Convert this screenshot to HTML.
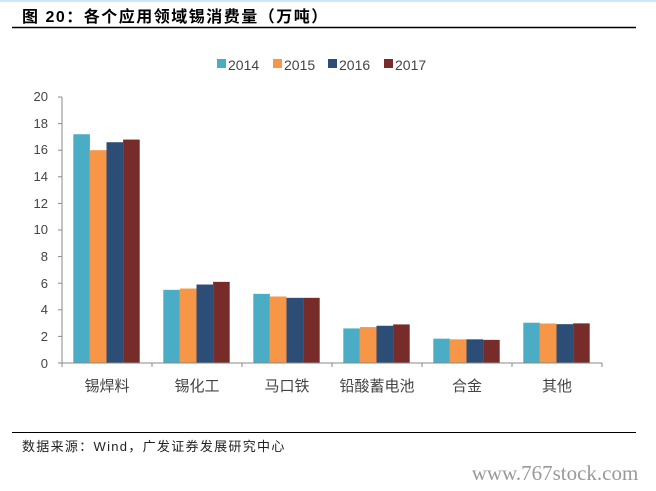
<!DOCTYPE html>
<html><head><meta charset="utf-8"><style>
html,body{margin:0;padding:0;background:#fff;}
body{width:656px;height:491px;overflow:hidden;position:relative;font-family:"Liberation Sans","Noto Sans CJK SC",sans-serif;}
</style></head><body>
<svg width="656" height="491" xmlns="http://www.w3.org/2000/svg" style="position:absolute;left:0;top:0">
<rect x="0" y="0" width="656" height="2" fill="#cfe8f5"/>
<text x="22" y="22" font-size="16" font-weight="bold" fill="#000" letter-spacing="1.5" font-family="Liberation Sans,Noto Sans CJK SC,sans-serif">图 20：各个应用领域锡消费量（万吨）</text>
<line x1="12" y1="27.5" x2="636" y2="27.5" stroke="#000" stroke-width="1.5"/>
<g font-size="14" fill="#444">
<rect x="217" y="59" width="9" height="9" fill="#4bacc6"/><text x="228" y="70">2014</text>
<rect x="273" y="59" width="9" height="9" fill="#f79646"/><text x="284" y="70">2015</text>
<rect x="328" y="59" width="9" height="9" fill="#2c4d75"/><text x="339" y="70">2016</text>
<rect x="384" y="59" width="9" height="9" fill="#772c2a"/><text x="395" y="70">2017</text>
</g>
<g font-size="13" fill="#444" text-anchor="end">
<text x="48" y="101">20</text><text x="48" y="128">18</text><text x="48" y="154">16</text><text x="48" y="181">14</text><text x="48" y="208">12</text><text x="48" y="234">10</text><text x="48" y="261">8</text><text x="48" y="288">6</text><text x="48" y="314">4</text><text x="48" y="341">2</text><text x="48" y="368">0</text>
</g>
<g stroke="#888" stroke-width="1">
<line x1="62" y1="97" x2="62" y2="363"/>
<line x1="58" y1="97" x2="62" y2="97"/>
<line x1="58" y1="123.6" x2="62" y2="123.6"/><line x1="58" y1="150.2" x2="62" y2="150.2"/><line x1="58" y1="176.8" x2="62" y2="176.8"/><line x1="58" y1="203.4" x2="62" y2="203.4"/><line x1="58" y1="230" x2="62" y2="230"/><line x1="58" y1="256.6" x2="62" y2="256.6"/><line x1="58" y1="283.2" x2="62" y2="283.2"/><line x1="58" y1="309.8" x2="62" y2="309.8"/><line x1="58" y1="336.4" x2="62" y2="336.4"/><line x1="58" y1="363" x2="62" y2="363"/>
</g>
<g id="bars"></g>
<line x1="62" y1="363" x2="602" y2="363" stroke="#888"/>
<g stroke="#888"><line x1="62" y1="363" x2="62" y2="367"/><line x1="152" y1="363" x2="152" y2="367"/><line x1="242" y1="363" x2="242" y2="367"/><line x1="332" y1="363" x2="332" y2="367"/><line x1="422" y1="363" x2="422" y2="367"/><line x1="512" y1="363" x2="512" y2="367"/><line x1="602" y1="363" x2="602" y2="367"/></g>
<g font-size="15" fill="#444" text-anchor="middle">
<text x="107" y="391">锡焊料</text><text x="197" y="391">锡化工</text><text x="287" y="391">马口铁</text><text x="377" y="391">铅酸蓄电池</text><text x="467" y="391">合金</text><text x="557" y="391">其他</text>
</g>
<line x1="12" y1="432.5" x2="636" y2="432.5" stroke="#000" stroke-width="1"/>
<text x="22" y="451" font-size="13" fill="#222" letter-spacing="1.3">数据来源：Wind，广发证券发展研究中心</text>
<text x="555" y="480" font-size="21" fill="#999" text-anchor="middle" font-family="Liberation Serif,serif">www.767stock.com</text>
</svg>
<script>
var d=[[17.2,16.0,16.6,16.8],[5.5,5.6,5.9,6.1],[5.2,5.0,4.9,4.9],[2.6,2.7,2.8,2.9],[1.83,1.78,1.78,1.74],[3.03,2.97,2.92,2.98]];
var c=["#4bacc6","#f79646","#2c4d75","#772c2a"];
var g=document.getElementById("bars"),ns="http://www.w3.org/2000/svg";
d.forEach(function(r,i){r.forEach(function(v,j){var e=document.createElementNS(ns,"rect");var h=v*13.3;e.setAttribute("x",73.3+i*90+j*16.6);e.setAttribute("y",363-h);e.setAttribute("width",16.6);e.setAttribute("height",h);e.setAttribute("fill",c[j]);g.appendChild(e);});});
</script>
</body></html>
